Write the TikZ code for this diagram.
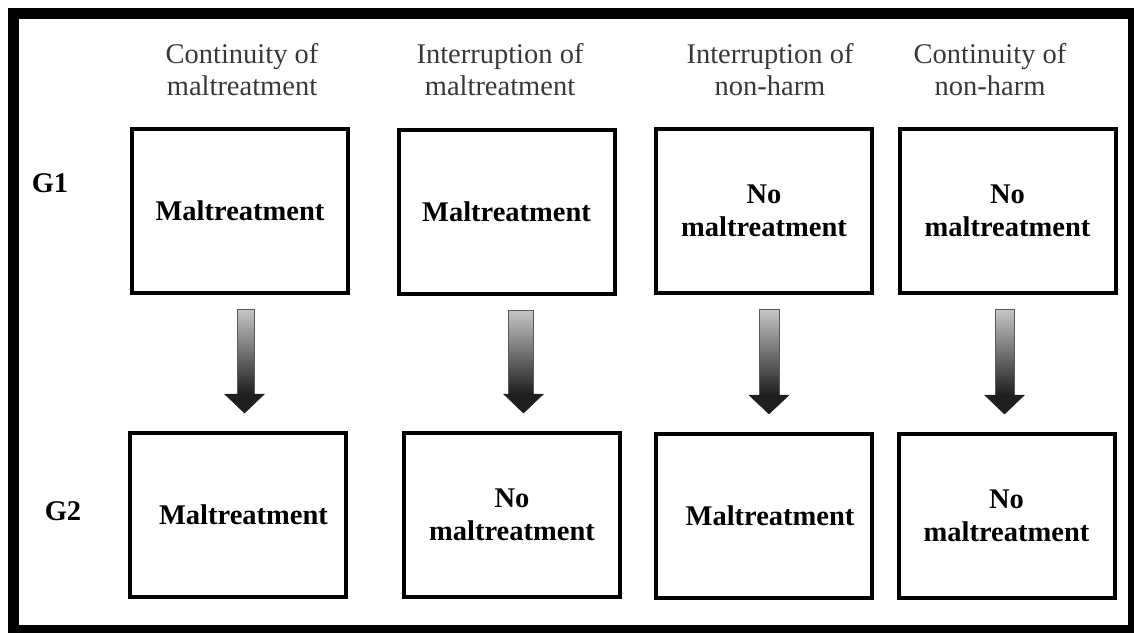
\documentclass[tikz,border=0pt]{standalone}
\usepackage{fontspec}
\setmainfont{Liberation Serif}
\usetikzlibrary{calc,shadows}
\tikzset{
  box/.style={draw=black, line width=4pt, minimum width=216pt, minimum height=164pt,
    inner sep=0pt, align=center, font=\fontsize{28.5}{33}\selectfont\bfseries, fill=white,
    drop shadow={opacity=0.25, shadow xshift=1.5pt, shadow yshift=-1.5pt}},
  head/.style={align=center, text=black!78, font=\fontsize{28.5}{32}\selectfont, inner sep=0pt},
  glabel/.style={font=\fontsize{28.5}{33}\selectfont\bfseries, inner sep=0pt},
  shaft/.style={top color=black!22, bottom color=black!88, draw=black!65, line width=0.8pt},
  tip/.style={fill=black!88, draw=black!88, line width=0.5pt, line join=round}
}
\newcommand\gradarr[3]{%
  \coordinate (t#1) at ($(#1.south)+(#3,14)$);
  \coordinate (h#1) at ($(#2.north)+(#3,-18)$);
  \shade[shaft] ($(t#1)+(-10,0)$) rectangle ($(h#1)+(10,-19)$);
  \filldraw[tip] ($(h#1)+(-20,-19)$) -- ($(h#1)+(20,-19)$) -- (h#1) -- cycle;
}
\begin{document}
\begin{tikzpicture}[x=1pt, y=-1pt]
\useasboundingbox (0,0) rectangle (1134,632);
\draw[line width=11pt] (13.5,13) rectangle (1133.5,630.5);
% headers
\node[head] (h1) at (242,70) {Continuity of\\maltreatment};
\node[head] (h2) at (500,70) {Interruption of\\maltreatment};
\node[head] (h3) at (770,70) {Interruption of\\non-harm};
\node[head] (h4) at (990,70) {Continuity of\\non-harm};
% row labels
\node[glabel] (g1) at (50,183) {G1};
\node[glabel] (g2) at (63,511) {G2};
% boxes
\node[box] (b1) at (240,211) {Maltreatment};
\node[box] (b2) at (506.5,212) {Maltreatment};
\node[box] (b3) at (764,211) {No\\maltreatment};
\node[box] (b4) at (1007.5,211) {No\\maltreatment};
\node[box] (b5) at (237.5,515) {\hspace*{12pt}Maltreatment};
\node[box] (b6) at (512,515) {No\\maltreatment};
\node[box] (b7) at (764,516) {\hspace*{12pt}Maltreatment};
\node[box] (b8) at (1006.5,516) {No\\maltreatment};
% arrows
\gradarr{b1}{b5}{7}
\gradarr{b2}{b6}{11.5}
\gradarr{b3}{b7}{5}
\gradarr{b4}{b8}{-2}
\end{tikzpicture}
\end{document}
